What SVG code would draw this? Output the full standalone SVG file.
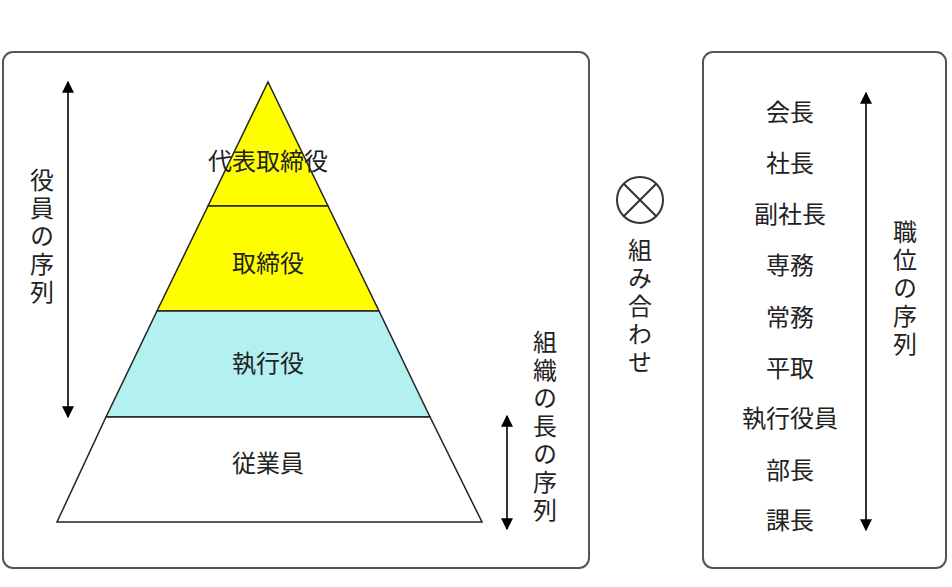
<svg xmlns="http://www.w3.org/2000/svg" width="952" height="587" viewBox="0 0 952 587">
<defs>
<marker id="ah" viewBox="0 0 10 10" refX="9" refY="5" markerWidth="12" markerHeight="12" orient="auto-start-reverse" markerUnits="userSpaceOnUse"><path d="M0,0 L10,5 L0,10 Z" fill="#000"/></marker>
<style>
text{font-family:"Noto Sans CJK JP","Liberation Serif",serif;font-size:24px;fill:#222;text-anchor:middle}
.v{writing-mode:vertical-rl;letter-spacing:4px}
.box{fill:#fff;stroke:#555;stroke-width:2}
.tier{stroke:#222;stroke-width:1.5}
.arr{stroke:#333;stroke-width:2;fill:none}
</style>
</defs>
<rect width="952" height="587" fill="#fff"/>
<rect class="box" x="3" y="52" width="586" height="516" rx="10"/>
<rect class="box" x="703" y="52" width="243" height="516" rx="10"/>
<g id="pyramid">
<g id="n1"><polygon class="tier" points="268,82 328,206 208,206" fill="#ffff00"/><text x="268" y="170">代表取締役</text></g>
<g id="n2"><polygon class="tier" points="208,206 328,206 379,311 157,311" fill="#ffff00"/><text x="268" y="272">取締役</text></g>
<g id="n3"><polygon class="tier" points="157,311 379,311 430,417 106,417" fill="#b3f0f0"/><text x="268" y="372">執行役</text></g>
<g id="n4"><polygon class="tier" points="106,417 430,417 482,522 57,522" fill="#fff"/><text x="268" y="472">従業員</text></g>
</g>
<g id="connectors">
<line class="arr" x1="68" y1="82" x2="68" y2="417" marker-start="url(#ah)" marker-end="url(#ah)"/>
<line class="arr" x1="507" y1="416" x2="507" y2="529" marker-start="url(#ah)" marker-end="url(#ah)"/>
<line class="arr" x1="866" y1="93" x2="866" y2="530" marker-start="url(#ah)" marker-end="url(#ah)"/>
</g>
<g id="labels">
<text class="v" x="42" y="168" style="text-anchor:start">役員の序列</text>
<text class="v" x="545" y="330" style="text-anchor:start">組織の長の序列</text>
<text class="v" x="905" y="220" style="text-anchor:start">職位の序列</text>
</g>
<g id="combine">
<circle cx="640" cy="200" r="23" fill="none" stroke="#333" stroke-width="2"/>
<line x1="623.7" y1="183.7" x2="656.3" y2="216.3" stroke="#333" stroke-width="2"/>
<line x1="656.3" y1="183.7" x2="623.7" y2="216.3" stroke="#333" stroke-width="2"/>
<text class="v" x="640" y="238" style="text-anchor:start">組み合わせ</text>
</g>
<g id="ranks">
<text x="790" y="121">会長</text>
<text x="790" y="172">社長</text>
<text x="790" y="223">副社長</text>
<text x="790" y="274">専務</text>
<text x="790" y="326">常務</text>
<text x="790" y="377">平取</text>
<text x="790" y="427">執行役員</text>
<text x="790" y="479">部長</text>
<text x="790" y="529">課長</text>
</g>
</svg>
